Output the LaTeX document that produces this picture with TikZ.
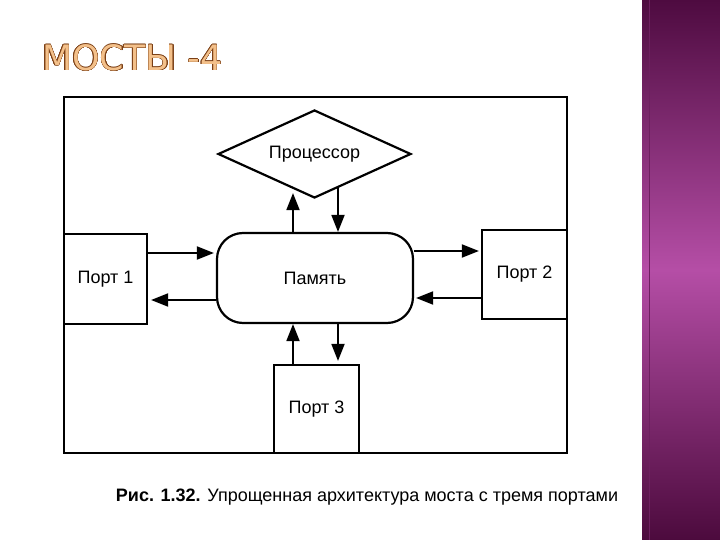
\documentclass[tikz,border=0pt]{standalone}
\usepackage{fontspec}
\setmainfont{Liberation Sans}
\newfontfamily\titlefont{DejaVu Sans}
\usepackage{contour}
\contourlength{0.5pt}
\usetikzlibrary{arrows.meta,shapes.geometric}
\definecolor{pTop}{HTML}{4E0B40}
\definecolor{pMid}{HTML}{B54EA6}
\definecolor{pBot}{HTML}{4C0A3D}
\definecolor{titlefill}{HTML}{F3C08A}
\definecolor{titleline}{HTML}{7A3E14}
\begin{document}
\begin{tikzpicture}[x=1pt,y=-1pt,
  box/.style={draw, line width=2.2pt, inner sep=0pt, font=\fontsize{18}{20}\selectfont},
  arr/.style={-{Triangle[length=17pt,width=13pt]}, line width=1.8pt}]
\useasboundingbox (0,0) rectangle (720,540);
\fill[white] (0,0) rectangle (720,540);
\shade[top color=pTop, bottom color=pBot, middle color=pMid] (642,0) rectangle (720,540);
\draw[pTop!70!pMid, line width=1pt] (649,0) -- (649,540);
% title
\node[anchor=west, inner sep=0pt] (title) at (42,58) {\titlefont\fontsize{35}{38}\selectfont\contour{titleline}{\textcolor{titlefill}{МОСТЫ -4}}};
% frame
\draw[line width=2.8pt] (64,97) rectangle (567,453);
% nodes
\node[box, minimum width=83pt, minimum height=90pt] (p1) at (105.5,279) {Порт 1};
\node[box, minimum width=85pt, minimum height=89pt] (p2) at (524.5,274.5) {Порт 2};
\node[box, minimum width=85pt, minimum height=88pt] (p3) at (316.5,409) {Порт 3};
\node[box, rounded corners=26pt, minimum width=196pt, minimum height=90pt] (mem) at (315,278) {Память};
\node[box, diamond, shape aspect=2.2, minimum width=193pt, minimum height=88pt] (dia) at (314.5,154) {Процессор};
% arrows
\draw[arr] ([xshift=-22pt]mem.north) -- ([xshift=-21.5pt,yshift=6pt]dia.south);
\draw[arr] ([xshift=23.5pt,yshift=11pt]dia.south) -- ([xshift=23pt]mem.north);
\draw[arr] ([yshift=26pt]p1.east) -- ([xshift=-2pt,yshift=25pt]mem.west);
\draw[arr] ([yshift=-22pt]mem.west) -- ([xshift=3pt,yshift=-21pt]p1.east);
\draw[arr] ([yshift=27pt]mem.east) -- ([xshift=-2pt,yshift=23.5pt]p2.west);
\draw[arr] ([yshift=-23.5pt]p2.west) -- ([xshift=2pt,yshift=-20pt]mem.east);
\draw[arr] ([xshift=-23.5pt]p3.north) -- ([xshift=-22pt]mem.south);
\draw[arr] ([xshift=23pt]mem.south) -- ([xshift=21.5pt,yshift=3pt]p3.north);
% caption
\node (cap) at (367,497) {\fontsize{18}{20}\selectfont\textbf{Рис. 1.32.} Упрощенная архитектура моста с тремя портами};
\end{tikzpicture}
\end{document}
